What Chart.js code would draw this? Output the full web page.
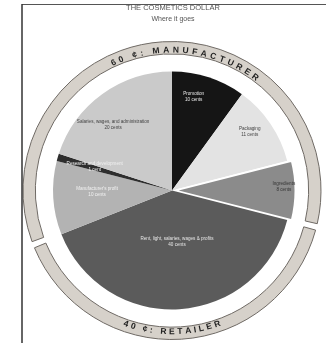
<!DOCTYPE html>
<html><head><meta charset="utf-8">
<script src="https://cdn.jsdelivr.net/npm/chart.js@4.4.0/dist/chart.umd.min.js"></script>
<style>html,body{margin:0;padding:0;background:#fff;}canvas{display:block;}</style>
</head><body>
<canvas id="c" width="329" height="343"></canvas>
<script>
// ---- data ----
const titleLines = ["THE COSMETICS DOLLAR", "Where it goes"];
const sliceLabels = ["Promotion", "Packaging", "Ingredients", "Rent, light, salaries, wages & profits", "Manufacturer's profit", "Research and development", "Salaries, wages, and administration"];
const sliceCents = [10, 11, 8, 40, 10, 1, 20];
const shareLabels = ["40 \u00a2: RETAILER", "60 \u00a2: MANUFACTURER"];
const shareCents = [40, 60];
const retailerStartIndex = 3; // retailer share begins with the "Rent..." slice

// ---- style ----
const sliceColors = ["#151515", "#e3e3e3", "#8b8b8b", "#5b5b5b", "#b3b3b3", "#2e2e2e", "#cacaca"];
const sliceOffsets = [0, 0, 12, 0, 0, 0, 0];
const sliceBorderW = [0, 0, 2, 0, 0, 0, 0];
const labelColors = ["#e8e8e8", "#444", "#333", "#e6e6e6", "#f2f2f2", "#f0f0f0", "#444"];
const labelRadius = [0.81, 0.82, 0.84, 0.43, 0.63, 0.68, 0.74];
const labelAngleAdj = [-5, -3, -2, -2, 3, 1, -6];
const ringColor = "#d6d1ca", ringBorder = "#6f6a65";

const total = sliceCents.reduce((a, b) => a + b, 0);
const ringRotation = sliceCents.slice(0, retailerStartIndex).reduce((a, b) => a + b, 0) / total * 360;

const decorPlugin = {
  id: 'decor',
  afterDraw(chart) {
    const ctx = chart.ctx;
    ctx.save();
    // frame lines
    ctx.strokeStyle = "#555"; ctx.lineWidth = 1;
    ctx.beginPath(); ctx.moveTo(22, 4.5); ctx.lineTo(326, 4.5); ctx.stroke();
    ctx.strokeStyle = "#333"; ctx.lineWidth = 1.5;
    ctx.beginPath(); ctx.moveTo(22, 4); ctx.lineTo(22, 343); ctx.stroke();
    // title
    ctx.fillStyle = "#555"; ctx.textAlign = "center"; ctx.textBaseline = "alphabetic";
    ctx.font = '7.5px "Liberation Sans"';
    ctx.fillText(titleLines[0], 173, 10);
    ctx.font = '7px "Liberation Sans"';
    ctx.fillText(titleLines[1], 173, 21);

    // slice labels
    const pieMeta = chart.getDatasetMeta(2);
    ctx.font = '4.6px "Liberation Sans"';
    ctx.textBaseline = "middle";
    pieMeta.data.forEach((arc, i) => {
      const p = arc.getProps(['x', 'y', 'startAngle', 'endAngle', 'outerRadius'], true);
      const mid = (p.startAngle + p.endAngle) / 2 + labelAngleAdj[i] * Math.PI / 180;
      const r = p.outerRadius * labelRadius[i] + sliceOffsets[i];
      const lx = p.x + Math.cos(mid) * r, ly = p.y + Math.sin(mid) * r;
      ctx.fillStyle = labelColors[i];
      ctx.fillText(sliceLabels[i], lx, ly - 3);
      ctx.fillText(sliceCents[i] + (sliceCents[i] === 1 ? " cent" : " cents"), lx, ly + 3);
    });

    // ring texts
    const ringMeta = chart.getDatasetMeta(0);
    const ra = ringMeta.data[0].getProps(['x', 'y', 'innerRadius', 'outerRadius'], true);
    const rm = (ra.innerRadius + ra.outerRadius) / 2;
    ctx.fillStyle = "#222";
    drawArcText(ctx, shareLabels[1], ra.x, ra.y, rm, 6, false, 'bold 8.5px "Liberation Sans"', 3.6);
    drawArcText(ctx, shareLabels[0], ra.x, ra.y, rm, 180, true, 'bold 8.5px "Liberation Sans"', 2.6);
    ctx.restore();
  }
};

function drawArcText(ctx, text, cx, cy, r, centerDeg, bottom, font, spacing) {
  ctx.font = font;
  ctx.textAlign = "center"; ctx.textBaseline = "middle";
  const chars = [...text];
  const cw = chars.map(ch => ctx.measureText(ch).width);
  const totalW = cw.reduce((a, b) => a + b, 0) + spacing * (chars.length - 1);
  const dir = bottom ? -1 : 1;
  let a = centerDeg * Math.PI / 180 - dir * totalW / (2 * r);
  chars.forEach((ch, i) => {
    const m = a + dir * (cw[i] / 2) / r;
    const px = cx + r * Math.sin(m), py = cy - r * Math.cos(m);
    ctx.save();
    ctx.translate(px, py);
    ctx.rotate(bottom ? m - Math.PI : m);
    ctx.fillText(ch, 0, 0.5);
    ctx.restore();
    a += dir * (cw[i] + spacing) / r;
  });
}

new Chart(document.getElementById('c'), {
  type: 'pie',
  data: {
    labels: sliceLabels,
    datasets: [
      {
        data: shareCents,
        backgroundColor: ringColor,
        borderColor: ringBorder,
        borderWidth: 1,
        hoverBorderWidth: 1,
        offset: 0,
        hoverOffset: 0,
        spacing: 4,
        rotation: ringRotation,
        weight: 84
      },
      {
        data: shareCents,
        backgroundColor: 'rgba(0,0,0,0)',
        borderWidth: 0,
        hoverOffset: 0,
        rotation: ringRotation,
        weight: 84
      },
      {
        data: sliceCents,
        backgroundColor: sliceColors,
        borderColor: '#ffffff',
        borderWidth: sliceBorderW,
        offset: sliceOffsets,
        hoverOffset: 0,
        weight: 832
      }
    ]
  },
  options: {
    responsive: false,
    animation: false,
    events: [],
    layout: { padding: { left: 22, right: 7, top: 41, bottom: 3 } },
    plugins: { legend: { display: false }, tooltip: { enabled: false }, title: { display: false } }
  },
  plugins: [decorPlugin]
});
</script>
</body></html>
